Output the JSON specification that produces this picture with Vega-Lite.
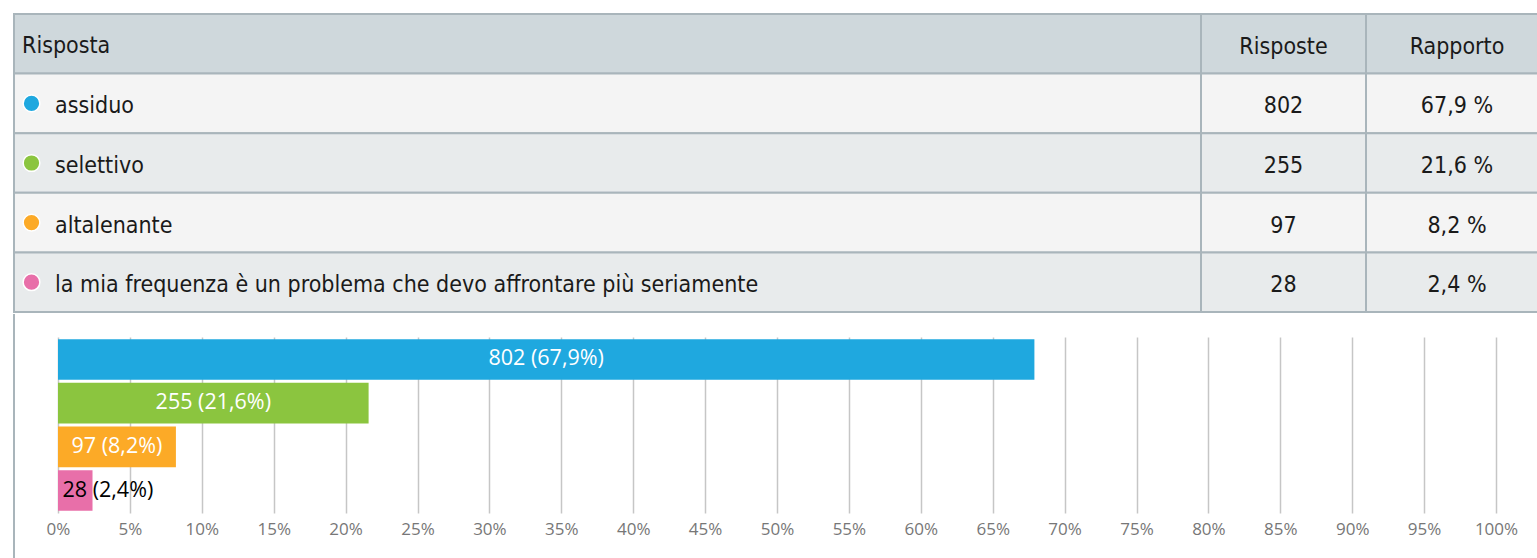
{
  "$schema": "https://vega.github.io/schema/vega-lite/v6.json",
  "background": "white",
  "padding": {"left": 13, "top": 13, "right": 0, "bottom": 0},
  "config": {"view": {"stroke": null}, "concat": {"spacing": 0}},
  "datasets": {
    "tabella": [
      {"riga": "0", "risposta": "Risposta", "risposte": "Risposte", "rapporto": "Rapporto"},
      {"riga": "1", "risposta": "assiduo", "risposte": "802", "rapporto": "67,9 %"},
      {"riga": "2", "risposta": "selettivo", "risposte": "255", "rapporto": "21,6 %"},
      {"riga": "3", "risposta": "altalenante", "risposte": "97", "rapporto": "8,2 %"},
      {"riga": "4", "risposta": "la mia frequenza è un problema che devo affrontare più seriamente", "risposte": "28", "rapporto": "2,4 %"}
    ],
    "grafico": [
      {"risposta": "assiduo", "n": 802, "pct": 67.9, "etichetta": "802 (67,9%)"},
      {"risposta": "selettivo", "n": 255, "pct": 21.6, "etichetta": "255 (21,6%)"},
      {"risposta": "altalenante", "n": 97, "pct": 8.2, "etichetta": "97 (8,2%)"},
      {"risposta": "la mia frequenza è un problema che devo affrontare più seriamente", "n": 28, "pct": 2.4, "etichetta": "28 (2,4%)"}
    ]
  },
  "spacing": 0,
  "vconcat": [
    {
      "spacing": 0,
      "bounds": "flush",
      "hconcat": [
        {
          "width": 1187,
          "height": 298,
          "data": {"name": "tabella"},
          "layer": [
            {
              "mark": {"type": "rect", "stroke": "#a9b5bb", "strokeWidth": 2},
              "encoding": {
                "y": {"field": "riga", "type": "ordinal", "axis": null, "scale": {"paddingInner": 0, "paddingOuter": 0}},
                "fill": {"field": "riga", "type": "ordinal", "legend": null,
                  "scale": {"domain": ["0", "1", "2", "3", "4"], "range": ["#cfd8dc", "#f4f4f4", "#e8ebec", "#f4f4f4", "#e8ebec"]}}
              }
            },
            {
              "transform": [{"filter": "datum.riga != '0'"}],
              "mark": {"type": "circle", "size": 280, "opacity": 1, "stroke": "white", "strokeWidth": 1.5},
              "encoding": {
                "x": {"value": 17.5},
                "y": {"field": "riga", "type": "ordinal", "axis": null},
                "color": {"field": "risposta", "type": "nominal", "legend": null,
                  "scale": {"domain": ["assiduo", "selettivo", "altalenante", "la mia frequenza è un problema che devo affrontare più seriamente"],
                    "range": ["#1fa8df", "#8bc53f", "#fcaa27", "#e86fa9"]}}
              }
            },
            {
              "transform": [{"filter": "datum.riga != '0'"}],
              "mark": {"type": "text", "align": "left", "baseline": "middle", "dy": 3, "font": "DejaVu Sans Condensed, Roboto, sans-serif", "fontSize": 23, "color": "#1a1a1a"},
              "encoding": {
                "x": {"value": 41},
                "y": {"field": "riga", "type": "ordinal", "axis": null},
                "text": {"field": "risposta"}
              }
            },
            {
              "transform": [{"filter": "datum.riga == '0'"}],
              "mark": {"type": "text", "align": "left", "baseline": "middle", "dy": 2, "font": "DejaVu Sans Condensed, Roboto, sans-serif", "fontSize": 23, "color": "#1a1a1a"},
              "encoding": {
                "x": {"value": 8},
                "y": {"field": "riga", "type": "ordinal", "axis": null},
                "text": {"field": "risposta"}
              }
            }
          ]
        },
        {
          "width": 165,
          "height": 298,
          "data": {"name": "tabella"},
          "layer": [
            {
              "mark": {"type": "rect", "stroke": "#a9b5bb", "strokeWidth": 2},
              "encoding": {
                "y": {"field": "riga", "type": "ordinal", "axis": null, "scale": {"paddingInner": 0, "paddingOuter": 0}},
                "fill": {"field": "riga", "type": "ordinal", "legend": null,
                  "scale": {"domain": ["0", "1", "2", "3", "4"], "range": ["#cfd8dc", "#f4f4f4", "#e8ebec", "#f4f4f4", "#e8ebec"]}}
              }
            },
            {
              "mark": {"type": "text", "align": "center", "baseline": "middle", "dy": 3, "font": "DejaVu Sans Condensed, Roboto, sans-serif", "fontSize": 23, "color": "#1a1a1a"},
              "encoding": {
                "y": {"field": "riga", "type": "ordinal", "axis": null},
                "text": {"field": "risposte"}
              }
            }
          ]
        },
        {
          "width": 182,
          "height": 298,
          "data": {"name": "tabella"},
          "layer": [
            {
              "mark": {"type": "rect", "stroke": "#a9b5bb", "strokeWidth": 2},
              "encoding": {
                "y": {"field": "riga", "type": "ordinal", "axis": null, "scale": {"paddingInner": 0, "paddingOuter": 0}},
                "fill": {"field": "riga", "type": "ordinal", "legend": null,
                  "scale": {"domain": ["0", "1", "2", "3", "4"], "range": ["#cfd8dc", "#f4f4f4", "#e8ebec", "#f4f4f4", "#e8ebec"]}}
              }
            },
            {
              "mark": {"type": "text", "align": "center", "baseline": "middle", "dy": 3, "font": "DejaVu Sans Condensed, Roboto, sans-serif", "fontSize": 23, "color": "#1a1a1a"},
              "encoding": {
                "y": {"field": "riga", "type": "ordinal", "axis": null},
                "text": {"field": "rapporto"}
              }
            }
          ]
        }
      ]
    },
    {
      "spacing": 0,
      "bounds": "flush",
      "hconcat": [
        {
          "width": 44,
          "height": 176,
          "data": {"values": [{}]},
          "mark": {"type": "rule", "stroke": "#a9b5bb", "strokeWidth": 2},
          "encoding": {"x": {"value": 0}, "y": {"value": -23}, "y2": {"value": 225}}
        },
        {
          "width": 1438,
          "height": 176,
          "data": {"name": "grafico"},
          "layer": [
            {
              "mark": {"type": "bar", "opacity": 1},
              "encoding": {
                "y": {"field": "risposta", "type": "nominal", "axis": null,
                  "sort": ["assiduo", "selettivo", "altalenante", "la mia frequenza è un problema che devo affrontare più seriamente"],
                  "scale": {"paddingInner": 0.07, "paddingOuter": 0.05}},
                "x": {"field": "pct", "type": "quantitative",
                  "scale": {"domain": [0, 100], "nice": false},
                  "axis": {"values": [0, 5, 10, 15, 20, 25, 30, 35, 40, 45, 50, 55, 60, 65, 70, 75, 80, 85, 90, 95, 100],
                    "labelExpr": "datum.value + '%'", "title": null, "domain": false, "ticks": false,
                    "labelFlush": false, "labelOverlap": false,
                    "grid": true, "gridColor": "#c6c6c6", "gridWidth": 1.5,
                    "labelFont": "Open Sans", "labelFontSize": 17, "labelColor": "#777777", "labelPadding": 8}},
                "color": {"field": "risposta", "type": "nominal", "legend": null,
                  "scale": {"domain": ["assiduo", "selettivo", "altalenante", "la mia frequenza è un problema che devo affrontare più seriamente"],
                    "range": ["#1fa8df", "#8bc53f", "#fcaa27", "#e86fa9"]}}
              }
            },
            {
              "transform": [{"filter": "datum.pct > 5"}, {"calculate": "datum.pct / 2", "as": "centro"}],
              "mark": {"type": "text", "align": "center", "baseline": "middle", "font": "Open Sans", "fontSize": 21.5, "color": "white"},
              "encoding": {
                "y": {"field": "risposta", "type": "nominal",
                  "sort": ["assiduo", "selettivo", "altalenante", "la mia frequenza è un problema che devo affrontare più seriamente"]},
                "x": {"field": "centro", "type": "quantitative"},
                "text": {"field": "etichetta"}
              }
            },
            {
              "transform": [{"filter": "datum.pct <= 5"}],
              "mark": {"type": "text", "align": "left", "baseline": "middle", "font": "Open Sans", "fontSize": 21.5, "color": "black", "dx": 4.5},
              "encoding": {
                "y": {"field": "risposta", "type": "nominal",
                  "sort": ["assiduo", "selettivo", "altalenante", "la mia frequenza è un problema che devo affrontare più seriamente"]},
                "x": {"datum": 0, "type": "quantitative"},
                "text": {"field": "etichetta"}
              }
            }
          ]
        }
      ]
    }
  ]
}
